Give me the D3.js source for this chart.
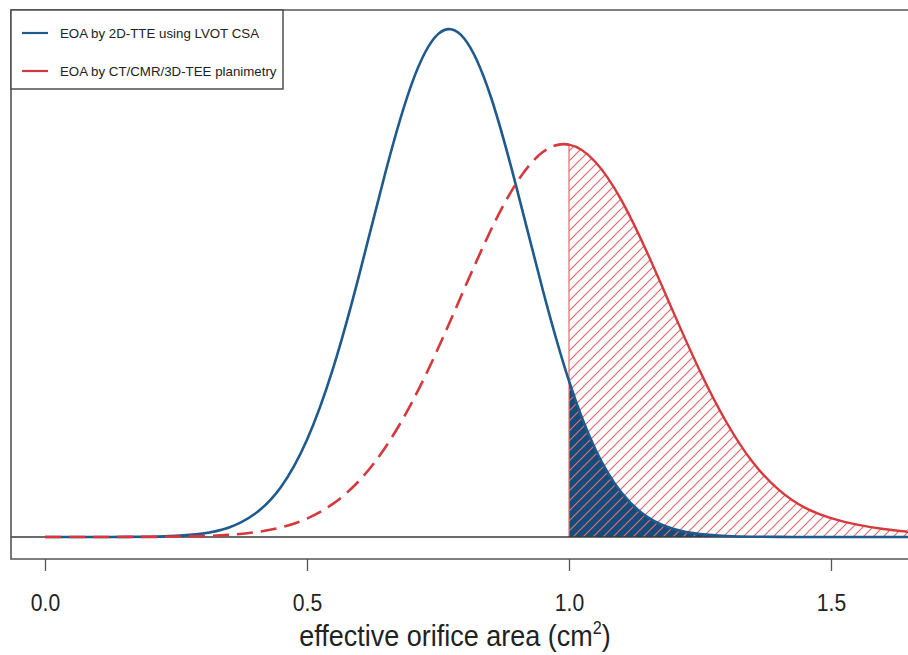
<!DOCTYPE html>
<html>
<head>
<meta charset="utf-8">
<script src="https://cdn.jsdelivr.net/npm/d3@7"></script>
<style>
  html, body { margin: 0; padding: 0; background: #fff; }
  svg { display: block; }
  text { font-family: "Liberation Sans", Arial, Helvetica, sans-serif; }
</style>
</head>
<body>
<svg id="chart" width="908" height="655"></svg>
<script>
// ---- data ----
const eoa = [0.00,0.05,0.10,0.15,0.20,0.25,0.30,0.35,0.40,0.45,0.50,0.55,0.60,0.65,0.70,0.75,0.80,0.85,0.90,0.95,
             1.00,1.05,1.10,1.15,1.20,1.25,1.30,1.35,1.40,1.45,1.50,1.55,1.60,1.65];
const densityTTE = [0.000,0.000,0.0001,0.0005,0.0017,0.0059,0.018,0.049,0.121,0.263,0.513,0.892,1.387,1.927,2.392,2.653,2.630,2.329,1.842,1.303,
                    0.823,0.464,0.234,0.105,0.042,0.015,0.005,0.0014,0.0004,0.0001,0.000,0.000,0.000,0.000];
const densityPlan = [0.000,0.000,0.0001,0.0003,0.0007,0.0019,0.0048,0.0112,0.0245,0.0503,0.097,0.176,0.298,0.475,0.709,0.994,1.308,1.614,1.869,2.031,
                     2.070,1.980,1.777,1.495,1.181,0.875,0.608,0.397,0.250,0.155,0.100,0.065,0.042,0.027];
const tickValues = [0.0, 0.5, 1.0, 1.5];
const threshold = 1.0;
const legendLabels = ["EOA by 2D-TTE using LVOT CSA", "EOA by CT/CMR/3D-TEE planimetry"];
const axisTitle = "effective orifice area (cm";

// ---- layout ----
const svg = d3.select("#chart");
const frame = {left: 11, top: 10, right: 920, bottom: 559};
const x = d3.scaleLinear().domain([0, 1.5]).range([45, 831]);
const y = d3.scaleLinear().domain([0, 2.68]).range([537, 29]);

const blueLine = "#1f5a8c", blueFill = "#124c7c";
const redLine = "#d4393d", redHatch = "#e66a6c";

const defs = svg.append("defs");
defs.append("clipPath").attr("id", "plotClip")
  .append("rect").attr("x", frame.left).attr("y", frame.top)
  .attr("width", frame.right - frame.left).attr("height", frame.bottom - frame.top);
defs.append("clipPath").attr("id", "rightClip")
  .append("rect").attr("x", x(threshold)).attr("y", frame.top)
  .attr("width", frame.right - x(threshold)).attr("height", frame.bottom - frame.top);
defs.append("clipPath").attr("id", "leftClip")
  .append("rect").attr("x", frame.left).attr("y", frame.top)
  .attr("width", x(threshold) - frame.left).attr("height", frame.bottom - frame.top);

const pat = defs.append("pattern").attr("id", "hatch")
  .attr("patternUnits", "userSpaceOnUse").attr("width", 10).attr("height", 10);
pat.append("path").attr("d", "M-2,2 L2,-2 M0,10 L10,0 M8,12 L12,8")
  .attr("stroke", redHatch).attr("stroke-width", 1.2).attr("fill", "none");

const tte = eoa.map((v, i) => ({x: v, y: densityTTE[i]}));
const plan = eoa.map((v, i) => ({x: v, y: densityPlan[i]}));

const line = d3.line().x(d => x(d.x)).y(d => y(d.y)).curve(d3.curveNatural);
const area = d3.area().x(d => x(d.x)).y0(y(0)).y1(d => y(d.y)).curve(d3.curveNatural);

const plot = svg.append("g").attr("clip-path", "url(#plotClip)");

// shaded regions beyond threshold
const right = plot.append("g").attr("clip-path", "url(#rightClip)");
right.append("path").datum(tte).attr("d", area).attr("fill", blueFill);
right.append("path").datum(plan).attr("d", area).attr("fill", "url(#hatch)");

// vertical threshold line
plot.append("line")
  .attr("x1", x(threshold)).attr("x2", x(threshold))
  .attr("y1", y(0)).attr("y2", y(densityPlan[eoa.indexOf(threshold)]))
  .attr("stroke", redHatch).attr("stroke-width", 1.2);

// baseline
plot.append("line").attr("x1", frame.left).attr("x2", frame.right)
  .attr("y1", y(0)).attr("y2", y(0)).attr("stroke", "#3a3a3a").attr("stroke-width", 1.6);

// curves
plot.append("path").datum(tte).attr("d", line)
  .attr("fill", "none").attr("stroke", blueLine).attr("stroke-width", 2.6);
plot.append("g").attr("clip-path", "url(#leftClip)")
  .append("path").datum(plan).attr("d", line)
  .attr("fill", "none").attr("stroke", redLine).attr("stroke-width", 2.6)
  .attr("stroke-dasharray", "16,8");
plot.append("g").attr("clip-path", "url(#rightClip)")
  .append("path").datum(plan).attr("d", line)
  .attr("fill", "none").attr("stroke", redLine).attr("stroke-width", 2.4);

// frame (left, top, bottom; right side runs off the picture)
svg.append("path")
  .attr("d", `M${frame.right},${frame.top} H${frame.left} V${frame.bottom} H${frame.right}`)
  .attr("fill", "none").attr("stroke", "#555").attr("stroke-width", 1.6);

// x axis
const axis = svg.append("g").attr("transform", `translate(0,${frame.bottom})`)
  .call(d3.axisBottom(x).tickValues(tickValues).tickFormat(d3.format(".1f")).tickSize(12).tickPadding(0));
axis.select(".domain").remove();
axis.selectAll(".tick line").attr("stroke", "#555").attr("stroke-width", 1.3);
axis.selectAll(".tick text").attr("y", null).attr("dy", null)
  .attr("transform", "translate(0,52) scale(0.88,1)")
  .attr("font-size", 24).attr("fill", "#222").attr("font-family", "'Liberation Sans', Arial, sans-serif");

// axis title
const title = svg.append("text").attr("transform", "translate(455,646) scale(0.9,1)")
  .attr("text-anchor", "middle").attr("font-size", 30).attr("fill", "#222");
title.append("tspan").text(axisTitle);
title.append("tspan").attr("font-size", 18).attr("dy", -12).text("2");
title.append("tspan").attr("dy", 12).text(")");

// legend
const lg = svg.append("g");
lg.append("rect").attr("x", frame.left).attr("y", frame.top).attr("width", 272).attr("height", 79)
  .attr("fill", "#fff").attr("stroke", "#444").attr("stroke-width", 1.4);
const legendColors = [blueLine, redLine];
const legendY = [33, 71];
legendLabels.forEach((lab, i) => {
  lg.append("line").attr("x1", 22).attr("x2", 48).attr("y1", legendY[i]).attr("y2", legendY[i])
    .attr("stroke", legendColors[i]).attr("stroke-width", 2.2);
  lg.append("text").attr("x", 60).attr("y", legendY[i]).attr("dy", "0.35em")
    .attr("font-size", 13.3).attr("fill", "#222").text(lab);
});
</script>
</body>
</html>
